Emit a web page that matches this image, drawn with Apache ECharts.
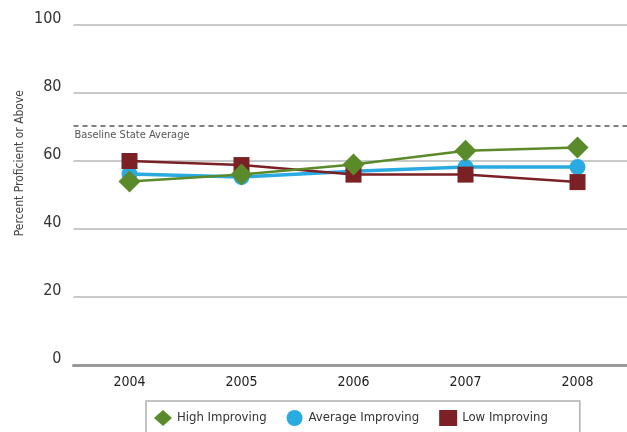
<!DOCTYPE html>
<html>
<head>
<meta charset="utf-8">
<script src="https://cdn.jsdelivr.net/npm/echarts@6/dist/echarts.min.js"></script>
<style>
  html, body { margin: 0; padding: 0; background: #fff; }
  #chart { width: 627px; height: 432px; }
</style>
</head>
<body>
<div id="chart"></div>
<script>
// data
var years = ['2004', '2005', '2006', '2007', '2008'];
var highImproving = [54, 56, 59, 63, 64];
var averageImproving = [56.2, 55.3, 57, 58.2, 58.2];
var lowImproving = [60, 58.8, 56, 56, 53.8];
var baselineAverage = 70.5;
var yTicks = [0, 20, 40, 60, 80, 100];

var FONT = '"Liberation Sans Narrow", "DejaVu Sans Condensed", sans-serif';

var chart = echarts.init(document.getElementById('chart'));

chart.setOption({
  animation: false,
  textStyle: { fontFamily: FONT },
  grid: { left: 73.5, top: 25, width: 560, height: 340, outerBoundsMode: 'none', containLabel: false },
  // y axis title sits above the plot's middle in the original
  graphic: [{
    type: 'text',
    left: 14,
    top: 90,
    rotation: Math.PI / 2,
    style: {
      text: 'Percent Proficient or Above',
      font: '12px ' + FONT,
      fill: '#444'
    }
  }],
  legend: {
    left: 146,
    top: 401,
    padding: [9, 32, 14, 8],
    borderColor: '#b0b0b0',
    borderWidth: 1.5,
    itemGap: 20,
    itemWidth: 18,
    itemHeight: 16,
    textStyle: { fontFamily: FONT, fontSize: 13, color: '#333' },
    data: [
      { name: 'High Improving', icon: 'diamond' },
      { name: 'Average Improving', icon: 'circle' },
      { name: 'Low Improving', icon: 'rect' }
    ]
  },
  xAxis: {
    type: 'category',
    data: years,
    boundaryGap: true,
    axisLine: { lineStyle: { color: '#999', width: 3 } },
    axisTick: { show: false },
    axisLabel: { fontFamily: FONT, fontSize: 14, color: '#222', margin: 10 }
  },
  yAxis: {
    type: 'value',
    min: yTicks[0],
    max: yTicks[yTicks.length - 1],
    interval: 20,
    axisLine: { show: false },
    axisTick: { show: false },
    axisLabel: {
      fontFamily: FONT, fontSize: 16, color: '#333', margin: 12,
      verticalAlign: 'bottom', lineHeight: 12
    },
    splitLine: { lineStyle: { color: '#b4b7ba', width: 1.5 } }
  },
  series: [
    {
      name: 'High Improving',
      type: 'line',
      data: highImproving,
      z: 4,
      symbol: 'diamond',
      symbolSize: 22,
      itemStyle: { color: '#5b8a2a' },
      lineStyle: { color: '#5b8a2a', width: 2.5 }
    },
    {
      name: 'Average Improving',
      type: 'line',
      data: averageImproving,
      z: 2,
      symbol: 'circle',
      symbolSize: 16,
      itemStyle: { color: '#29abe2' },
      lineStyle: { color: '#29abe2', width: 3.5 },
      markLine: {
        silent: true,
        symbol: 'none',
        data: [{ yAxis: baselineAverage }],
        lineStyle: { color: '#555', type: [5, 4], width: 1.5 },
        label: {
          position: 'insideStartBottom',
          formatter: 'Baseline State Average',
          fontFamily: FONT,
          fontSize: 11,
          color: '#555',
          distance: [1, 4]
        }
      }
    },
    {
      name: 'Low Improving',
      type: 'line',
      data: lowImproving,
      z: 3,
      symbol: 'rect',
      symbolSize: 16,
      itemStyle: { color: '#7b2025' },
      lineStyle: { color: '#7b2025', width: 2.5 }
    }
  ]
});
</script>
</body>
</html>
